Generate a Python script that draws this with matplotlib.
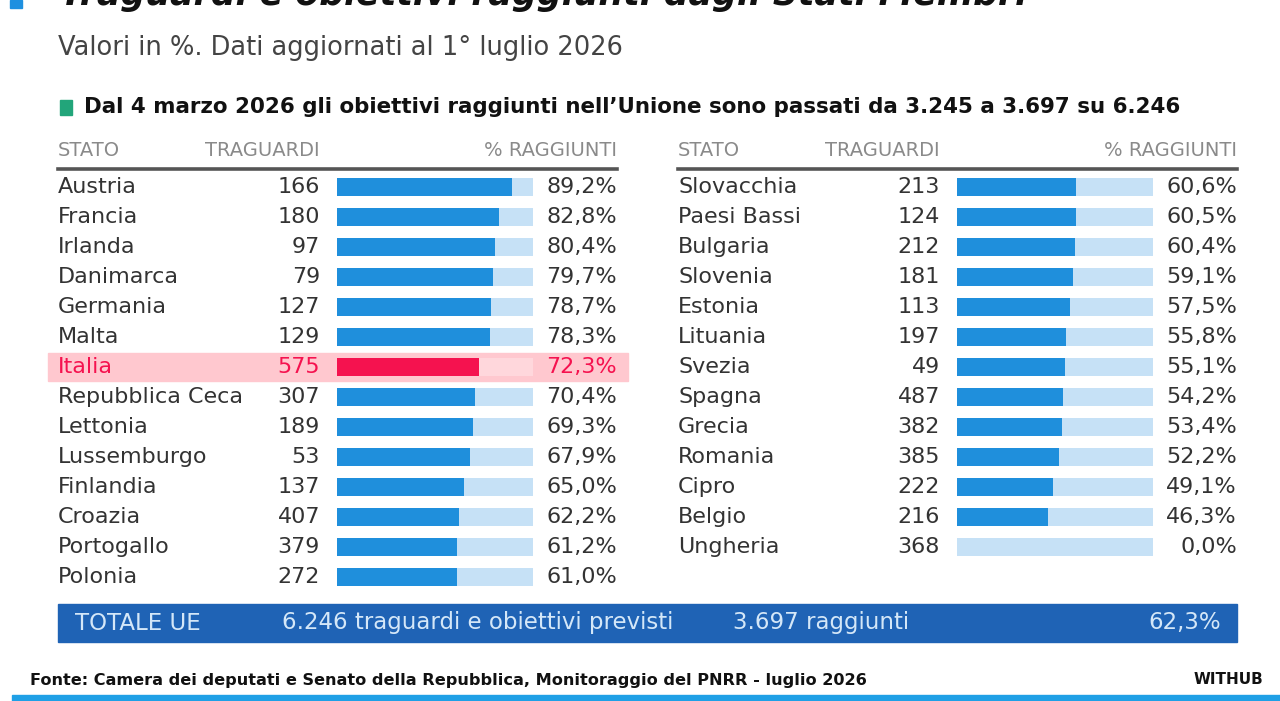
import matplotlib
matplotlib.use('Agg')
import matplotlib.pyplot as plt
from matplotlib.patches import Rectangle

plt.rcParams['font.family'] = ['DejaVu Sans']

# data, left column
left_states = ['Austria', 'Francia', 'Irlanda', 'Danimarca', 'Germania', 'Malta', 'Italia',
               'Repubblica Ceca', 'Lettonia', 'Lussemburgo', 'Finlandia', 'Croazia',
               'Portogallo', 'Polonia']
left_targets = [166, 180, 97, 79, 127, 129, 575, 307, 189, 53, 137, 407, 379, 272]
left_pct = [89.2, 82.8, 80.4, 79.7, 78.7, 78.3, 72.3, 70.4, 69.3, 67.9, 65.0, 62.2, 61.2, 61.0]

# data, right column
right_states = ['Slovacchia', 'Paesi Bassi', 'Bulgaria', 'Slovenia', 'Estonia', 'Lituania',
                'Svezia', 'Spagna', 'Grecia', 'Romania', 'Cipro', 'Belgio', 'Ungheria']
right_targets = [213, 124, 212, 181, 113, 197, 49, 487, 382, 385, 222, 216, 368]
right_pct = [60.6, 60.5, 60.4, 59.1, 57.5, 55.8, 55.1, 54.2, 53.4, 52.2, 49.1, 46.3, 0.0]

total_label = 'TOTALE UE'
total_expected = '6.246 traguardi e obiettivi previsti'
total_reached = '3.697 raggiunti'
total_pct = '62,3%'

highlight = 'Italia'

DARK = '#1f8fdc'
LIGHT = '#c6e1f6'
RED = '#f5124f'
PINK = '#ffc8cf'
TXT = '#333333'

fig = plt.figure(figsize=(12.8, 7.01), dpi=100)
ax = fig.add_axes([0, 0, 1, 1])
ax.set_xlim(0, 1280)
ax.set_ylim(701, 0)
ax.axis('off')


def fmt(v):
    return f'{v:.1f}%'.replace('.', ',')


def draw_column(x0, states, targets, pct):
    bar_x = x0 + 279
    bar_w = 196
    num_x = x0 + 262
    pct_x = x0 + 559
    # header
    hc = '#8a8a8a'
    ax.text(x0, 151, 'STATO', fontsize=14, color=hc, va='center')
    ax.text(num_x, 151, 'TRAGUARDI', fontsize=14, color=hc, va='center', ha='right')
    ax.text(pct_x, 151, '% RAGGIUNTI', fontsize=14, color=hc, va='center', ha='right')
    ax.plot([x0, pct_x], [169, 169], color='#555555', lw=2.6)
    ys = [187 + 30 * i for i in range(len(states))]
    for y, s, t, p in zip(ys, states, targets, pct):
        hl = s == highlight
        if hl:
            ax.add_patch(Rectangle((x0 - 10, y - 14), pct_x - x0 + 21, 28, color=PINK, zorder=0))
        col = RED if hl else TXT
        ax.text(x0, y, s, fontsize=16, color=col, va='center')
        ax.text(num_x, y, str(t), fontsize=16, color=col, va='center', ha='right')
        ax.text(pct_x, y, fmt(p), fontsize=16, color=col, va='center', ha='right')
    bg = ['#ffd7dc' if s == highlight else LIGHT for s in states]
    fg = [RED if s == highlight else DARK for s in states]
    ax.barh(ys, [bar_w] * len(ys), left=bar_x, height=18, color=bg, zorder=1)
    ax.barh(ys, [p / 100 * bar_w for p in pct], left=bar_x, height=18, color=fg, zorder=2)


draw_column(58, left_states, left_targets, left_pct)
draw_column(678, right_states, right_targets, right_pct)

# title (cut at the top edge)
ax.add_patch(Rectangle((10, 0), 12, 8, color='#1e90e0'))
ax.text(60, 5, 'Traguardi e obiettivi raggiunti dagli Stati Membri', fontsize=25,
        fontweight='bold', fontstyle='italic', color='#111111', va='baseline')
ax.text(58, 48, 'Valori in %. Dati aggiornati al 1° luglio 2026', fontsize=18.5,
        color='#444444', va='center')
ax.add_patch(Rectangle((60, 100), 12, 15, color='#22a57a'))
ax.text(84, 107, 'Dal 4 marzo 2026 gli obiettivi raggiunti nell\u2019Unione sono passati da 3.245 a 3.697 su 6.246',
        fontsize=15.4, fontweight='bold', color='#111111', va='center')

# total bar
ax.add_patch(Rectangle((58, 604), 1179, 38, color='#1f63b5'))
tc = '#d4e7f8'
ax.text(75, 623, total_label, fontsize=16.5, color=tc, va='center')
ax.text(282, 623, total_expected, fontsize=16.5, color=tc, va='center')
ax.text(733, 623, total_reached, fontsize=16.5, color=tc, va='center')
ax.text(1221, 623, total_pct, fontsize=16.5, color=tc, va='center', ha='right')

# footer
ax.text(30, 680, 'Fonte: Camera dei deputati e Senato della Repubblica, Monitoraggio del PNRR - luglio 2026',
        fontsize=11.6, fontweight='bold', color='#111111', va='center')
ax.text(1263, 680, 'WITHUB', fontsize=11, fontweight='bold', color='#111111', va='center', ha='right')
ax.add_patch(Rectangle((12, 695), 1268, 6, color='#1fa0e6'))

fig.savefig('out.png', dpi=100)
